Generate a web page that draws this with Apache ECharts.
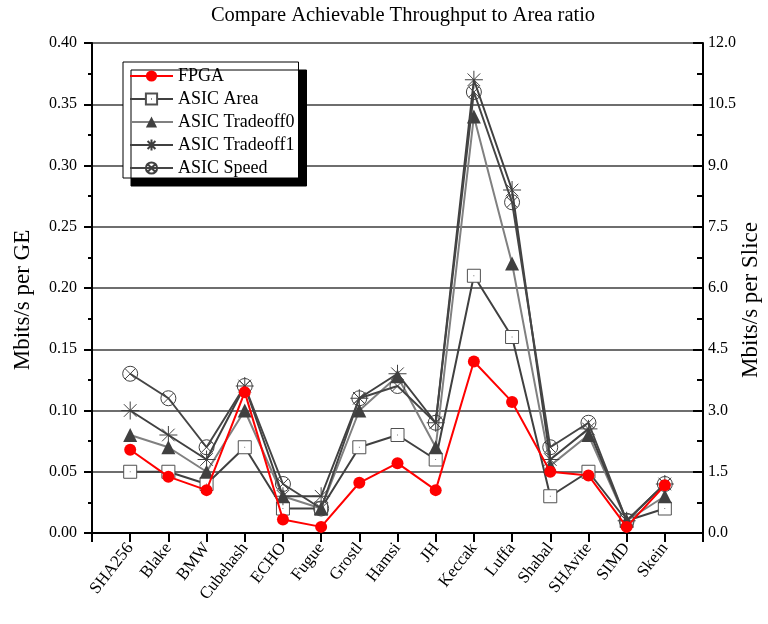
<!DOCTYPE html>
<html>
<head>
<meta charset="utf-8">
<script src="https://cdn.jsdelivr.net/npm/echarts@6/dist/echarts.min.js"></script>
<style>html,body{margin:0;padding:0;background:#fff}#c{width:768px;height:624px}</style>
</head>
<body>
<div id="c"></div>
<script>
const categories = ['SHA256','Blake','BMW','Cubehash','ECHO','Fugue','Grostl','Hamsi','JH','Keccak','Luffa','Shabal','SHAvite','SIMD','Skein'];
const fpga      = [0.068,0.046,0.035,0.115,0.011,0.005,0.041,0.057,0.035,0.140,0.107,0.050,0.047,0.005,0.039];
const asicArea  = [0.050,0.050,0.040,0.070,0.020,0.020,0.070,0.080,0.060,0.210,0.160,0.030,0.050,0.010,0.020];
const asicT0    = [0.080,0.070,0.050,0.100,0.030,0.020,0.100,0.128,0.070,0.340,0.220,0.055,0.080,0.010,0.030];
const asicT1    = [0.100,0.080,0.060,0.120,0.030,0.030,0.110,0.130,0.090,0.370,0.280,0.060,0.085,0.010,0.040];
const asicSpeed = [0.130,0.110,0.070,0.120,0.040,0.020,0.110,0.120,0.090,0.360,0.270,0.070,0.090,0.010,0.040];
const leftTicks = {min: 0, max: 0.40, interval: 0.05};
const rightTicks = {min: 0, max: 12, interval: 1.5};

const FONT = 'Liberation Serif';
const pad = arr => [null].concat(arr, [null]);
const xCats = [''].concat(categories, ['']);

const chart = echarts.init(document.getElementById('c'));
const common = {type: 'line', connectNulls: false, animation: false};
chart.setOption({
  animation: false,
  title: {
    text: 'Compare Achievable Throughput to Area ratio',
    left: 398, top: 0, textAlign: 'center',
    textStyle: {fontFamily: FONT, fontSize: 20.5, fontWeight: 'normal', color: '#000'}
  },
  legend: {
    orient: 'vertical', left: 123, top: 62,
    data: ['FPGA','ASIC Area','ASIC Tradeoff0','ASIC Tradeoff1','ASIC Speed'],
    backgroundColor: '#fff', borderColor: '#000', borderWidth: 1, borderRadius: 0,
    padding: [5, 4, 1, 6], itemGap: 5, itemWidth: 43, itemHeight: 14,
    shadowColor: '#000', shadowBlur: 0, shadowOffsetX: 8, shadowOffsetY: 8,
    textStyle: {fontFamily: FONT, fontSize: 18, color: '#000'}
  },
  grid: {left: 92, right: 65, top: 43, bottom: 91, containLabel: false, outerBoundsMode: 'none'},
  xAxis: {
    type: 'category', data: xCats, boundaryGap: false,
    axisLine: {lineStyle: {color: '#000', width: 2}},
    axisTick: {show: true, interval: 0, length: 9, lineStyle: {color: '#000', width: 2}},
    axisLabel: {interval: 0, rotate: 52, margin: 12, fontFamily: FONT, fontSize: 17, color: '#000'},
    splitLine: {show: false}
  },
  yAxis: [{
    type: 'value', min: leftTicks.min, max: leftTicks.max, interval: leftTicks.interval,
    name: 'Mbits/s per GE', nameLocation: 'middle', nameGap: 58, nameMoveOverlap: false,
    nameTextStyle: {fontFamily: FONT, fontSize: 23, color: '#000', padding: [0, 24, 0, 0]},
    axisLine: {show: true, lineStyle: {color: '#000', width: 2}},
    axisTick: {show: true, length: 8, lineStyle: {color: '#000', width: 2}},
    minorTick: {show: true, splitNumber: 2, length: 4, lineStyle: {color: '#000', width: 2}},
    axisLabel: {formatter: v => v.toFixed(2), margin: 15, fontFamily: FONT, fontSize: 16, color: '#000'},
    splitLine: {show: true, lineStyle: {color: '#6e6e6e', width: 2}}
  }, {
    type: 'value', position: 'right', min: rightTicks.min, max: rightTicks.max, interval: rightTicks.interval,
    name: 'Mbits/s per Slice', nameLocation: 'middle', nameGap: 36, nameRotate: 90, nameMoveOverlap: false,
    nameTextStyle: {fontFamily: FONT, fontSize: 23, color: '#000', padding: [0, 24, 0, 0]},
    axisLine: {show: true, lineStyle: {color: '#000', width: 2}},
    axisTick: {show: true, inside: true, length: 10, lineStyle: {color: '#000', width: 2}},
    minorTick: {show: true, splitNumber: 2, length: 6, lineStyle: {color: '#000', width: 2}},
    axisLabel: {formatter: v => v.toFixed(1), margin: 5, fontFamily: FONT, fontSize: 16, color: '#000'},
    splitLine: {show: false}
  }],
  series: [
    Object.assign({}, common, {
      name: 'ASIC Area', data: pad(asicArea), z: 3,
      symbol: 'path://M0,0L20,0L20,20L0,20ZM9.4,10L10.6,10', symbolSize: 13,
      lineStyle: {color: '#404040', width: 2},
      itemStyle: {color: '#fff', borderColor: '#505050', borderWidth: 1}
    }),
    Object.assign({}, common, {
      name: 'ASIC Tradeoff0', data: pad(asicT0), z: 4,
      symbol: 'triangle', symbolSize: 14,
      lineStyle: {color: '#808080', width: 2},
      itemStyle: {color: '#404040', borderColor: '#404040', borderWidth: 0}
    }),
    Object.assign({}, common, {
      name: 'ASIC Tradeoff1', data: pad(asicT1), z: 5,
      symbol: 'path://M10,0L10,20M0,10L20,10M3,3L17,17M17,3L3,17', symbolSize: 18,
      lineStyle: {color: '#404040', width: 2},
      itemStyle: {color: 'rgba(0,0,0,0)', borderColor: '#404040', borderWidth: 1}
    }),
    Object.assign({}, common, {
      name: 'ASIC Speed', data: pad(asicSpeed), z: 6,
      symbol: 'path://M0,10A10,10,0,1,1,20,10A10,10,0,1,1,0,10ZM3,3L17,17M17,3L3,17', symbolSize: 15,
      lineStyle: {color: '#454545', width: 2},
      itemStyle: {color: 'rgba(0,0,0,0)', borderColor: '#404040', borderWidth: 1}
    }),
    Object.assign({}, common, {
      name: 'FPGA', data: pad(fpga), z: 10,
      symbol: 'circle', symbolSize: 12,
      lineStyle: {color: '#ff0000', width: 2},
      itemStyle: {color: '#ff0000', borderWidth: 0}
    })
  ]
});
</script>
</body>
</html>
